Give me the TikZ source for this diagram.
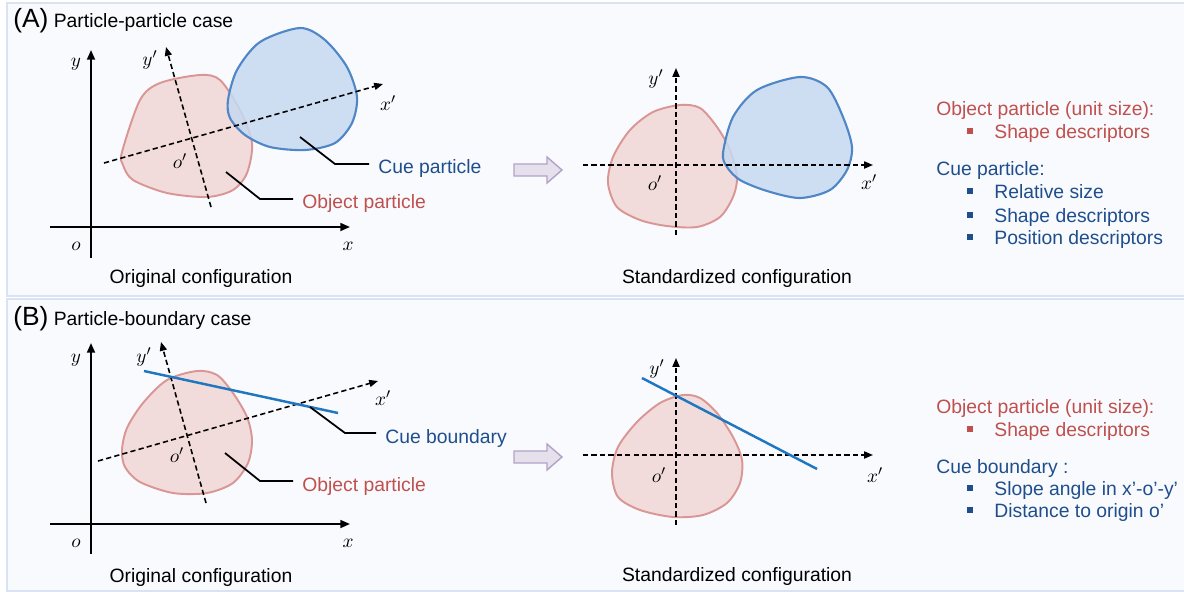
\documentclass[tikz,border=0pt]{standalone}
\usepackage{fontspec}
\setmainfont{Liberation Sans}
\usetikzlibrary{arrows.meta,positioning}
\definecolor{panelline}{HTML}{DAE3F3}
\definecolor{panelfill}{HTML}{F8FAFE}
\definecolor{objline}{HTML}{D99694}
\definecolor{objfill}{HTML}{F2DCDB}
\definecolor{cueline}{HTML}{4F86C6}
\definecolor{cuefill}{HTML}{C6D9F1}
\definecolor{objtext}{HTML}{C0504D}
\definecolor{cuetext}{HTML}{1F4E8C}
\definecolor{bndline}{HTML}{2176C0}
\definecolor{arrowline}{HTML}{B3A2C7}
\definecolor{arrowfill}{HTML}{E6E0EC}

\begin{document}
\begin{tikzpicture}[x=0.02cm,y=-0.02cm,
  font=\fontsize{11}{13}\selectfont,
  panel/.style={draw=panelline,fill=panelfill,line width=1pt},
  axisarrow/.style={line width=1.1pt,-{Triangle[length=5.5pt,width=4.5pt]}},
  rotaxis/.style={dash pattern=on 3pt off 1.8pt,line width=0.9pt,-{Triangle[length=5pt,width=4pt]}},
  objshape/.style={draw=objline,fill=objfill,line width=1.1pt},
  cueshape/.style={draw=cueline,line width=1.2pt,fill=cuefill,fill opacity=0.85},
  bndstyle/.style={draw=bndline,line width=1.4pt},
  leader/.style={line width=1pt,shorten >=5pt},
  lbl/.style={anchor=base west,inner sep=0pt},
  caption/.style={anchor=base,inner sep=0pt},
  itembullet/.style={fill=#1,inner sep=0pt,minimum size=3.3pt},
  hollowarrow/.style={draw=arrowline,fill=arrowfill,line width=0.8pt}]
  \useasboundingbox (0,0) rectangle (1184,592);
  \fill[white] (0,0) rectangle (1184,592);

  % panels
  \draw[panel] (7,3) rectangle (1200,296);
  \draw[panel] (7,299) rectangle (1200,591);
  \node[lbl] (titleA) at (13,27) {{\fontsize{15}{16}\selectfont (A)} Particle-particle case};
  \node[lbl] (titleB) at (13,325) {{\fontsize{15}{16}\selectfont (B)} Particle-boundary case};

  %% (A) original configuration
  \draw[objshape] plot[smooth cycle] coordinates {(122,152) (140,100) (160,83) (200,75)
    (220,80) (240,110) (252,143) (247,173) (233,190) (207,197) (167,193) (133,180) (123,165)};
  \draw[cueshape] plot[smooth cycle] coordinates {(228,100) (237,70) (260,42) (300,28)
    (325,40) (347,67) (357,97) (352,123) (335,143) (305,150) (270,147) (245,135) (230,118)};
  \draw[axisarrow] (91,258) -- (91,50);
  \draw[axisarrow] (50,227) -- (350,227);
  \draw[rotaxis] (211,207) -- (166,47);
  \draw[rotaxis] (104,163) -- (383,84);
  \node (yA) at (76,64) {$y$};
  \node (oA) at (76,246) {$o$};
  \node (xA) at (348,246) {$x$};
  \node (ypA) at (150,60) {$y'$};
  \node (xpA) at (388,103) {$x'$};
  \node (opA) at (180,161) {$o'$};
  \coordinate (tipObjA) at (226,172);
  \coordinate (kneeObjA) at (260,199);
  \coordinate (tipCueA) at (300,137);
  \coordinate (kneeCueA) at (335,164);
  \node[lbl,text=objtext] (lblObjA) at (302,208) {Object particle};
  \node[lbl,text=cuetext] (lblCueA) at (378,173) {Cue particle};
  \draw[leader] (tipObjA) -- (kneeObjA) -- (kneeObjA -| lblObjA.west);
  \draw[leader] (tipCueA) -- (kneeCueA) -- (kneeCueA -| lblCueA.west);
  \node[caption] (capOrigA) at (201,283) {Original configuration};

  % transform arrow
  \draw[hollowarrow] (514,164) -- (547,164) -- (547,157) -- (562,170) -- (547,183)
    -- (547,176) -- (514,176) -- cycle;

  %% (A) standardized configuration
  \draw[objshape] plot[smooth cycle] coordinates {(608,183) (613,157) (630,130) (653,112)
    (680,105) (700,108) (717,127) (730,150) (737,177) (733,197) (720,217) (697,227)
    (667,226) (640,220) (617,207)};
  \draw[cueshape] plot[smooth cycle] coordinates {(723,153) (733,117) (757,90) (800,77)
    (827,87) (843,117) (852,147) (847,170) (830,190) (800,198) (767,191) (740,180) (727,167)};
  \draw[rotaxis] (583,165) -- (873,165);
  \draw[rotaxis] (676,235) -- (676,68);
  \node (ypSA) at (656,79) {$y'$};
  \node (opSA) at (655,183) {$o'$};
  \node (xpSA) at (869,182) {$x'$};
  \node[caption] (capStdA) at (737,283) {Standardized configuration};

  % (A) descriptors
  \node[lbl,text=objtext] (objHdrA) at (936,115) {Object particle (unit size):};
  \node[itembullet=objtext] (bulA1) at (970,131) {};
  \node[lbl,text=objtext] (itemA1) at (994,138) {Shape descriptors};
  \node[lbl,text=cuetext] (cueHdrA) at (936,175) {Cue particle:};
  \node[itembullet=cuetext] (bulA2) at (970,191) {};
  \node[lbl,text=cuetext] (itemA2) at (994,198) {Relative size};
  \node[itembullet=cuetext] (bulA3) at (970,215) {};
  \node[lbl,text=cuetext] (itemA3) at (994,222) {Shape descriptors};
  \node[itembullet=cuetext] (bulA4) at (970,237) {};
  \node[lbl,text=cuetext] (itemA4) at (994,244) {Position descriptors};

  %% (B) original configuration
  \draw[objshape] plot[smooth cycle] coordinates {(122,450) (127,428) (143,403) (167,380)
    (197,371) (217,375) (233,393) (247,417) (252,440) (248,463) (233,483) (207,493)
    (173,493) (140,482) (125,467)};
  \draw[axisarrow] (91,554) -- (91,343);
  \draw[axisarrow] (50,524) -- (350,524);
  \draw[rotaxis] (206,503) -- (161,342);
  \draw[rotaxis] (98,461) -- (378,381);
  \coordinate (bndStartB) at (144,371);
  \coordinate (bndEndB) at (338,413);
  \draw[bndstyle] (bndStartB) -- (bndEndB);
  \node (yB) at (76,360) {$y$};
  \node (oB) at (76,543) {$o$};
  \node (xB) at (348,543) {$x$};
  \node (ypB) at (144,357) {$y'$};
  \node (xpB) at (383,398) {$x'$};
  \node (opB) at (177,455) {$o'$};
  \coordinate (tipObjB) at (225,453);
  \coordinate (kneeObjB) at (260,481);
  \coordinate (tipCueB) at (310,407);
  \coordinate (kneeCueB) at (345,433);
  \node[lbl,text=objtext] (lblObjB) at (302,491) {Object particle};
  \node[lbl,text=cuetext] (lblCueB) at (385,443) {Cue boundary};
  \draw[leader] (tipObjB) -- (kneeObjB) -- (kneeObjB -| lblObjB.west);
  \draw[leader] (tipCueB) -- (kneeCueB) -- (kneeCueB -| lblCueB.west);
  \node[caption] (capOrigB) at (201,582) {Original configuration};

  % transform arrow
  \draw[hollowarrow] (514,451) -- (547,451) -- (547,444) -- (562,457) -- (547,470)
    -- (547,463) -- (514,463) -- cycle;

  %% (B) standardized configuration
  \draw[objshape] plot[smooth cycle] coordinates {(612,473) (618,447) (637,422) (660,403)
    (683,395) (700,398) (717,413) (733,437) (742,460) (740,483) (727,503) (703,515)
    (673,517) (640,510) (618,497)};
  \draw[rotaxis] (583,455) -- (873,455);
  \draw[rotaxis] (676,525) -- (676,358);
  \coordinate (bndStartSB) at (642,378);
  \coordinate (bndEndSB) at (817,469);
  \draw[bndstyle] (bndStartSB) -- (bndEndSB);
  \node (ypSB) at (657,369) {$y'$};
  \node (opSB) at (659,475) {$o'$};
  \node (xpSB) at (875,475) {$x'$};
  \node[caption] (capStdB) at (737,581) {Standardized configuration};

  % (B) descriptors
  \node[lbl,text=objtext] (objHdrB) at (936,413) {Object particle (unit size):};
  \node[itembullet=objtext] (bulB1) at (970,429) {};
  \node[lbl,text=objtext] (itemB1) at (994,436) {Shape descriptors};
  \node[lbl,text=cuetext] (cueHdrB) at (936,473) {Cue boundary :};
  \node[itembullet=cuetext] (bulB2) at (970,488) {};
  \node[lbl,text=cuetext] (itemB2) at (994,495) {Slope angle in x’-o’-y’};
  \node[itembullet=cuetext] (bulB3) at (970,510) {};
  \node[lbl,text=cuetext] (itemB3) at (994,517) {Distance to origin o’};
\end{tikzpicture}
\end{document}
